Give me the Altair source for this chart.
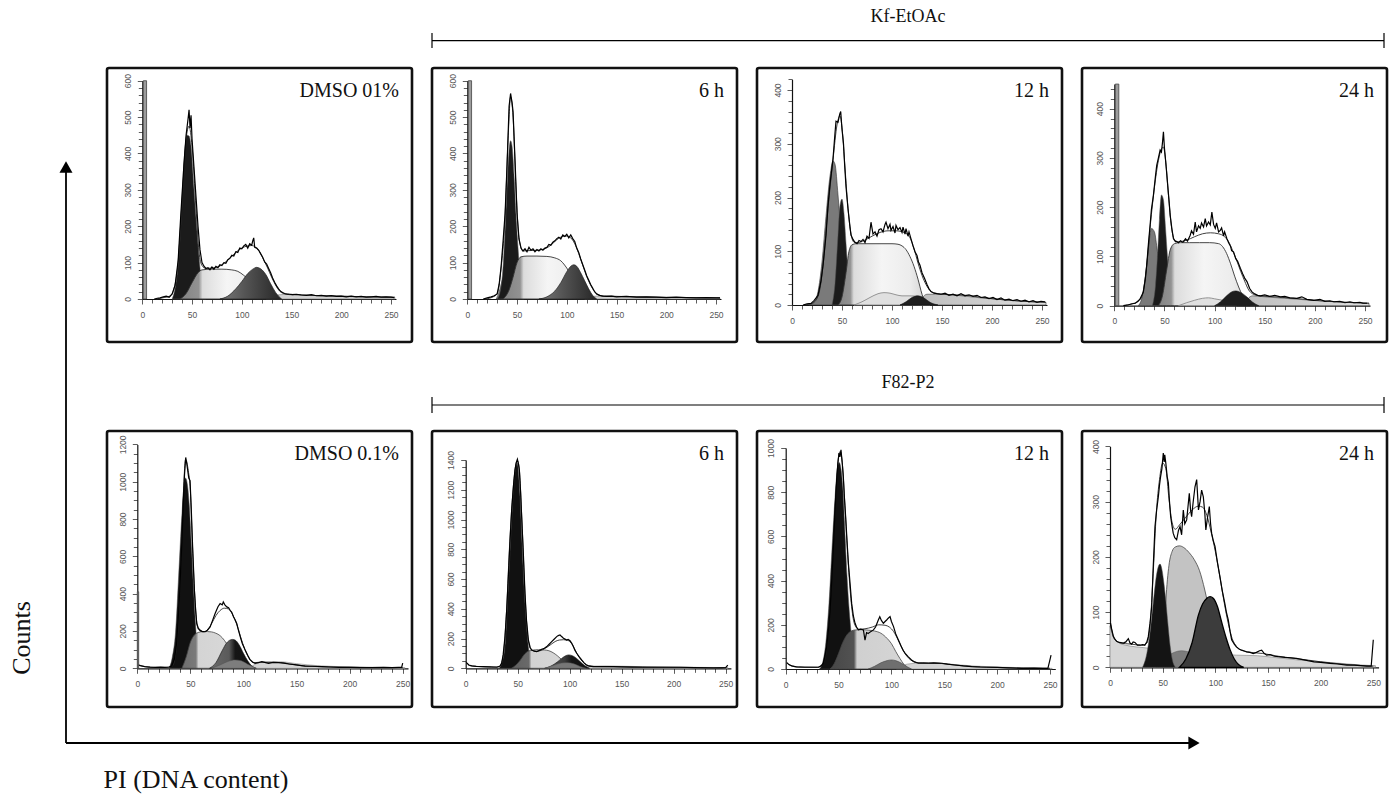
import altair as alt
import pandas as pd

W, H = 1394, 795
SERIF = "Liberation Serif"
SANS = "Liberation Sans"

# ======================= DATA =======================
# x = PI channel (0-255), y = counts

# ---- Panel 1 : DMSO 01% (top) ----
p1_raw = [(12,0),(15,2),(18,3),(21,6),(24,8),(27,5),(30,14),(33,38),(36,105),(39,245),(42,375),(44,450),(46,495),(47,520),(48,470),(49,505),(50,440),(52,360),(54,280),(56,200),(58,135),(60,100),(62,90),(64,84),(66,86),(68,80),(70,88),(72,82),(74,90),(76,86),(78,94),(80,92),(82,100),(84,98),(86,108),(88,112),(90,120),(92,118),(94,130),(96,128),(98,140),(100,138),(102,146),(104,150),(106,140),(108,152),(110,148),(111,160),(112,168),(113,142),(115,140),(117,134),(119,124),(121,115),(123,102),(125,96),(127,84),(129,72),(131,58),(133,46),(135,36),(137,28),(139,21),(141,18),(143,15),(145,14),(148,13),(151,12),(155,13),(160,11),(165,10),(170,12),(175,9),(180,10),(185,8),(190,9),(195,7),(200,8),(205,6),(210,8),(215,6),(220,7),(225,5),(230,6),(235,7),(240,5),(245,6),(250,5),(253,4)]
p1_fit = [(14,0),(22,4),(28,8),(32,30),(36,100),(40,270),(44,440),(47,475),(50,420),(54,250),(57,130),(60,92),(64,84),(70,85),(76,88),(82,98),(88,112),(94,128),(100,140),(106,146),(110,147),(114,142),(118,130),(122,108),(126,85),(130,60),(134,38),(138,22),(142,15),(148,12),(160,11),(180,9),(200,8),(225,6),(254,5)]
p1_g1 = [(30,0),(33,30),(36,95),(39,230),(42,380),(45,450),(47,448),(49,420),(52,300),(55,185),(58,85),(61,15),(64,0)]
p1_s = [(38,0),(44,15),(50,45),(56,72),(60,80),(70,82),(80,82),(90,80),(96,76),(102,65),(108,50),(114,33),(120,18),(126,7),(132,0)]
p1_g2 = [(78,0),(86,8),(94,28),(100,48),(106,70),(111,82),(115,87),(119,83),(124,68),(129,42),(134,18),(140,0)]
p1_tail = [(125,0),(135,11),(150,13),(170,10),(200,7),(230,5),(254,4)]
p1_spike = [(1,4.3,600)]

# ---- Panel 2 : Kf-EtOAc 6 h ----
p2_raw = [(16,0),(20,3),(24,6),(27,9),(30,14),(32,40),(34,90),(36,160),(38,235),(40,370),(42,530),(43.5,565),(45,540),(46,515),(48,380),(50,235),(52,165),(54,140),(56,132),(58,138),(60,130),(62,142),(64,134),(66,138),(68,130),(70,136),(72,132),(74,138),(76,134),(78,140),(80,142),(82,150),(84,148),(86,156),(88,160),(90,166),(92,170),(94,165),(96,176),(98,172),(100,178),(102,168),(104,176),(106,166),(108,158),(110,140),(112,128),(114,110),(116,95),(118,80),(120,64),(122,52),(124,40),(126,30),(128,20),(130,14),(133,10),(136,8),(140,7),(145,8),(150,6),(160,7),(170,5),(180,6),(190,5),(200,4),(210,5),(220,4),(230,3),(240,4),(250,3),(254,3)]
p2_fit = [(18,0),(26,6),(30,14),(34,85),(38,230),(41,440),(43.5,555),(46,500),(49,300),(52,165),(56,132),(62,133),(70,134),(78,138),(84,148),(90,163),(96,172),(100,173),(104,168),(108,152),(112,125),(116,93),(120,62),(124,38),(128,20),(132,11),(138,8),(150,7),(180,5),(220,4),(254,3)]
p2_sub = [(29,0),(32,20),(35,50),(38,72),(39.5,76),(41,70),(43,50),(45,25),(47,8),(49,0)]
p2_g1 = [(30,0),(33,20),(36,90),(38,190),(40,310),(42,410),(43.5,435),(45,420),(47,340),(49,230),(51,140),(53,65),(55,20),(57,0)]
p2_s = [(36,0),(42,25),(46,60),(50,100),(54,116),(60,118),(70,118),(80,117),(88,113),(94,105),(100,85),(106,58),(112,30),(118,10),(126,0)]
p2_g2 = [(72,0),(80,6),(88,22),(94,45),(100,75),(104,90),(107,94),(110,90),(114,72),(118,50),(122,28),(126,10),(130,0)]
p2_tail = [(118,0),(130,8),(140,8),(160,7),(190,5),(220,4),(254,3)]
p2_spike = [(1,4.3,600)]

# ---- Panel 3 : Kf-EtOAc 12 h ----
p3_raw = [(11,0),(15,2),(19,3),(22,8),(26,18),(29,45),(31,74),(34,130),(36,185),(38,225),(41,272),(43,320),(44,342),(46,340),(47.7,355),(48.7,360),(50,327),(51.5,300),(52.7,259),(54,220),(56,179),(58,145),(59,130),(61,122),(62.7,117),(65,114),(67,120),(69,118),(71,122),(73,116),(75,128),(77,124),(79,154),(81,132),(83,136),(85,128),(87,140),(89,142),(91,136),(93,150),(94,154),(96,142),(98,150),(99,139),(101,146),(103,134),(104,148),(106,140),(108,144),(110,135),(111,145),(113,132),(114,142),(116,128),(117,136),(119,123),(121,110),(123,99),(125,92),(126.5,80),(128,74),(130,60),(132.7,49),(135,38),(137,30),(139,25),(142,22),(145,21),(149,20),(153,22),(157,18),(161,20),(165,17),(169,21),(173,17),(177,19),(181,16),(185,18),(189,14),(193,15),(197,12),(201,14),(205,10),(209,13),(213,9),(217,11),(221,8),(225,10),(229,7),(233,9),(237,6),(241,8),(245,5),(249,7),(253,6)]
p3_fit = [(12,0),(20,3),(26,16),(31,72),(36,180),(41,270),(45,335),(48,352),(50,330),(53,255),(56,180),(59,132),(62,117),(66,116),(72,120),(80,128),(88,135),(96,138),(104,138),(112,135),(118,125),(122,105),(126,78),(130,55),(134,38),(138,27),(143,22),(150,20),(160,19),(175,18),(190,14),(210,10),(230,7),(254,5)]
p3_sub = [(17,0),(22,5),(26,25),(30,80),(34,165),(38,240),(41,268),(43,262),(46,205),(49,135),(52,80),(55,35),(58,10),(61,0)]
p3_g1 = [(40,0),(43,40),(46,130),(48,185),(50,197),(52,170),(54,115),(56,60),(58,20),(61,0)]
p3_s = [(46,0),(50,15),(54,60),(57,100),(60,112),(64,114),(70,114),(80,114),(90,114),(100,114),(106,113),(110,110),(114,103),(118,90),(122,72),(126,48),(130,20),(134,0)]
p3_bump = [(62,0),(70,6),(78,14),(86,21),(92,23),(98,22),(104,19),(110,17),(118,17),(126,16),(132,8),(138,0)]
p3_g2 = [(108,0),(114,6),(120,14),(126,17),(132,13),(138,5),(146,0)]
p3_tail = [(126,0),(135,20),(150,20),(170,17),(190,13),(210,10),(230,7),(254,5)]

# ---- Panel 4 : Kf-EtOAc 24 h ----
p4_raw = [(9,0),(14,2),(18,4),(21,5),(24,10),(26,15),(29,28),(31,55),(32.3,82),(34,125),(35.7,164),(37,195),(39,224),(41,262),(42.3,285),(44,300),(45.7,316),(47,312),(48,330),(49,353),(50,320),(50.7,305),(52,275),(53,251),(54.5,215),(55.7,184),(57.5,155),(59,136),(61,130),(62.3,130),(64,128),(66,132),(68,129),(69,130),(71,136),(73,131),(75.7,143),(77,152),(79,145),(80.7,170),(82,150),(84,162),(85.7,157),(87,168),(89,160),(90.7,177),(92,162),(94,170),(95.7,164),(97.3,190),(99,165),(100.7,157),(102,168),(104,150),(105.7,153),(107,158),(109,142),(110,150),(112.3,136),(114,128),(116,120),(117,112),(119,109),(121,96),(123,90),(125.7,76),(128,65),(130,56),(132.3,49),(135,35),(137.3,28),(140,24),(143,21),(145.7,20),(150,22),(155,19),(160,21),(165.7,18),(170,19),(175,16),(182,15),(187,18),(192,13),(199,11),(205,13),(210,9),(215,10),(219,8),(225,9),(230,6),(235,8),(239,6),(245,7),(248,5),(252,5)]
p4_fit = [(10,0),(18,4),(24,9),(28,22),(32,75),(36,165),(40,240),(44,295),(47,318),(49,322),(51,298),(54,225),(57,160),(60,134),(64,130),(72,133),(80,140),(88,146),(96,148),(104,146),(110,140),(114,130),(118,112),(122,92),(126,70),(130,50),(134,32),(138,24),(145,20),(160,18),(180,15),(200,11),(220,8),(240,6),(254,5)]
p4_sub = [(24,0),(28,20),(31,60),(34,115),(37,157),(40,150),(43,110),(46,60),(49,20),(52,0)]
p4_g1 = [(38,0),(41,40),(43,100),(45,175),(47,225),(49,215),(51,160),(53,100),(55,50),(58,12),(61,0)]
p4_s = [(44,0),(48,20),(52,70),(56,115),(60,126),(66,128),(75,128),(85,128),(95,128),(104,126),(108,120),(112,106),(116,85),(120,60),(124,38),(128,20),(132,6),(135,0)]
p4_bump = [(64,0),(72,6),(80,11),(88,15),(94,16),(100,14),(108,11),(116,8),(122,0)]
p4_g2 = [(100,0),(106,8),(112,20),(117,28),(121,30),(126,27),(132,18),(138,7),(144,0)]
p4_tail = [(128,0),(138,20),(150,18),(170,15),(190,12),(210,9),(230,7),(254,5)]
p4_spike = [(1,4.5,450)]

# ---- Panel 5 : DMSO 0.1% (bottom) ----
p5_raw = [(0.5,18),(3,14),(7,9),(12,6),(17,5),(22,6),(26,5),(30,7),(32.4,12),(35,50),(37,133),(38.5,260),(40,418),(42,680),(43.4,899),(44.5,1040),(45.6,1130),(46.5,1100),(47.5,1059),(48.5,1020),(49.7,1005),(51,830),(52,667),(53,530),(53.8,418),(55,310),(56,240),(57.5,215),(59,205),(61,198),(64,196),(66,204),(68.6,222),(71,258),(73.3,294),(76,330),(78,347),(80,340),(81,356),(82.5,340),(84.3,329),(86,325),(87.4,311),(89,300),(90.6,276),(92,262),(93.7,240),(95,210),(97,169),(99,132),(101.6,98),(104,70),(106,48),(108.5,34),(111,27),(114,30),(117.3,36),(120,32),(123.6,27),(128,32),(133,30),(138,28),(142.5,23),(148,20),(153,16),(158,12),(165,11),(174,9),(182,7),(190,5),(200,5),(210,4),(221,4),(232,5),(240,4),(246,5),(249,5),(250,28)]
p5_fit = [(0.5,18),(5,11),(15,5),(28,5),(33,12),(37,120),(40,410),(43,880),(45.5,1120),(48,1060),(50,950),(52,650),(54,400),(56,245),(58,205),(62,195),(66,205),(70,240),(74,282),(78,310),(82,322),(86,318),(90,285),(94,230),(98,155),(102,92),(106,48),(110,30),(116,33),(125,32),(135,31),(145,22),(155,14),(170,9),(190,6),(220,4),(250,4)]
p5_g1 = [(30,0),(33,60),(36,190),(39,500),(42,820),(44,980),(45.5,1020),(47,990),(49,870),(51,650),(53,420),(55,220),(57,70),(60,0)]
p5_s = [(42,0),(46,60),(50,140),(54,180),(58,193),(62,197),(66,197),(70,195),(74,188),(78,175),(82,150),(86,115),(90,78),(94,42),(98,15),(102,0)]
p5_g2 = [(68,0),(74,30),(80,95),(84,135),(88,153),(90,155),(93,148),(96,125),(100,80),(104,40),(108,12),(112,0)]
p5_bump = [(70,0),(78,18),(86,38),(92,45),(98,40),(104,22),(112,0)]
p5_tail = [(105,0),(115,30),(125,35),(135,35),(150,25),(170,14),(200,8),(230,5),(252,4)]
p5_spike = [(0,1.3,410)]

# ---- Panel 6 : F82-P2 6 h ----
p6_raw = [(0.5,40),(3,22),(5.8,16),(10,13),(17,11),(24,9),(30,7),(33,15),(34.6,34),(36,90),(37.8,213),(39.5,400),(41,616),(42.5,840),(44.2,1064),(46,1230),(47.4,1333),(48.5,1380),(49.7,1405),(50.8,1370),(51.6,1333),(52.8,1180),(53.8,1019),(55.5,760),(57,504),(58.5,320),(60.3,190),(62,140),(63.5,123),(66,115),(68.3,112),(70,118),(72,124),(73,128),(75,132),(78,146),(80,160),(82.7,179),(85,195),(87.5,213),(89,220),(90.7,224),(92,215),(94,202),(95.5,196),(97,190),(98.5,194),(100.3,186),(102,168),(103.5,146),(105,122),(106.7,101),(109,78),(111.5,56),(114,35),(116,22),(119,14),(122.7,11),(130,12),(136,11),(142,11),(150,9),(160,8),(174,7),(190,7),(206,7),(220,5),(238,2),(246,3),(250,4),(252,22)]
p6_fit = [(0.5,40),(4,18),(12,12),(25,8),(32,10),(36,80),(39,350),(42,800),(45,1150),(48,1360),(49.7,1395),(51.5,1340),(54,1000),(57,500),(60,195),(63,125),(68,113),(74,125),(80,150),(86,180),(90,190),(94,192),(98,188),(102,165),(106,112),(110,65),(114,35),(118,18),(124,12),(140,11),(170,8),(210,6),(250,4)]
p6_g1 = [(32,0),(35,40),(38,170),(41,550),(44,980),(47,1290),(49.5,1380),(52,1180),(54,860),(56,560),(58,330),(60,160),(62,60),(65,0)]
p6_s = [(44,0),(48,20),(52,50),(56,90),(60,115),(64,122),(70,125),(76,123),(80,118),(84,105),(88,85),(92,60),(96,35),(100,14),(104,0)]
p6_g2 = [(76,0),(82,15),(88,42),(92,65),(96,84),(99,90),(102,86),(106,70),(110,45),(114,20),(119,0)]
p6_bump = [(76,0),(84,18),(92,35),(98,38),(104,30),(110,12),(116,0)]
p6_tail = [(110,0),(120,15),(135,16),(150,14),(170,11),(200,8),(230,6),(252,5)]

# ---- Panel 7 : F82-P2 12 h ----
p7_raw = [(1,29),(3,20),(5.7,14),(10,10),(18,8),(25,8),(31,8),(33.5,14),(35.6,26),(37,55),(38.8,101),(40.5,180),(42,267),(43.5,400),(45,539),(46.5,700),(48,841),(49.3,930),(50.4,977),(51.3,960),(52.3,992),(53.5,930),(54.5,871),(55.5,780),(56.7,690),(58,580),(59.3,478),(61,380),(62.4,297),(64,240),(65.6,207),(67,190),(68.7,177),(71,180),(73.5,177),(75,131),(76.5,165),(78,161),(80,168),(83,177),(85,190),(87.6,222),(89,237),(90.5,220),(92.4,207),(94,215),(95.5,222),(97,230),(98.7,237),(100,215),(102,192),(104,160),(106.6,131),(109,105),(111,85),(113,71),(116,55),(119,41),(122,32),(125.5,26),(130,27),(135,26),(140,28),(147.5,26),(153,22),(160,18),(168,14),(176,11),(184,9),(192,8),(200,7),(210,5),(223,3),(235,4),(243,3),(248,3),(251,63)]
p7_fit = [(1,29),(5,15),(12,9),(30,8),(35,22),(39,105),(43,380),(46.5,700),(49.5,940),(51.5,985),(53.5,935),(56,740),(59,490),(62,300),(65,205),(69,180),(75,182),(82,190),(88,200),(94,198),(98,190),(102,170),(106,135),(110,95),(114,62),(118,42),(124,29),(135,27),(147,25),(160,18),(180,10),(200,7),(225,4),(250,3)]
p7_g1 = [(32,0),(35,30),(38,120),(41,300),(44,560),(47,800),(49,910),(50.5,935),(52,915),(54,820),(56,620),(58,420),(60,270),(62,160),(64,80),(66,30),(69,0)]
p7_s = [(42,0),(46,25),(50,70),(54,120),(58,155),(62,172),(66,177),(72,178),(78,176),(84,172),(90,162),(96,138),(100,115),(104,80),(108,48),(112,20),(117,0)]
p7_g2 = [(78,0),(84,12),(90,28),(96,38),(100,41),(104,38),(110,25),(115,10),(119,0)]
p7_tail = [(105,0),(115,22),(130,28),(145,27),(160,20),(180,13),(200,9),(230,5),(252,3)]

# ---- Panel 8 : F82-P2 24 h ----
p8_raw = [(0.5,80),(1.5,70),(3.2,56),(5,50),(6.3,47),(9,45),(12.7,44),(15,46),(17.4,52),(19,44),(20.6,42),(22,46),(23.7,45),(26,40),(28.5,40),(31,41),(33,40),(35,46),(36.4,56),(38,80),(39.6,110),(41,180),(42.7,255),(44.3,285),(45.9,309),(47,330),(48,345),(49.3,360),(50.6,388),(51.5,372),(52,385),(53,370),(54.3,345),(55.4,334),(56.5,300),(57.6,273),(59,255),(60,243),(61.5,235),(63.3,231),(65,248),(66.5,255),(68,240),(69.6,285),(71,260),(72.8,267),(74,290),(75.3,315),(76.5,285),(77.5,273),(79,300),(80.7,327),(82.3,340),(84,285),(85.5,300),(87,321),(88.6,309),(90,280),(91,249),(92.5,270),(94.3,291),(95.5,260),(96.5,243),(98,230),(99.7,219),(102,190),(104.4,164),(106.5,140),(109,116),(110.5,100),(112.3,86),(114,65),(115.5,50),(118,42),(120,37),(122.5,33),(125,31),(127,30),(129.7,28),(133,27),(136,25),(139,27),(142,30),(144,31),(146,26),(148.7,22),(152,23),(156,20),(161.4,19),(166,18),(172,17),(177,16),(183,14),(188,12),(193.7,10),(200,9),(208.9,7),(216,6),(224.7,4),(232,4),(238,3),(243.7,2),(248,2),(250,50)]
p8_fit = [(0.5,78),(4,52),(10,44),(20,42),(30,40),(35,44),(38,75),(41,170),(44,280),(47,340),(50,370),(53,360),(56,305),(59,262),(62,250),(66,258),(72,272),(78,285),(84,292),(88,290),(92,275),(96,245),(100,210),(104,168),(108,122),(112,82),(116,52),(120,38),(126,30),(134,27),(145,25),(160,20),(180,15),(200,10),(225,5),(250,2)]
p8_debris = [(0,75),(3,55),(8,45),(15,40),(25,37),(35,35),(45,33),(60,30),(80,27),(100,24),(120,22),(140,21),(160,17),(180,13),(200,10),(220,7),(240,4),(252,3)]
p8_agg = [(44,0),(56,22),(68,30),(80,25),(95,17),(110,10),(125,0)]
p8_g1 = [(31,0),(35,25),(38,62),(41,115),(44,165),(46,183),(47.5,187),(49,180),(51,155),(53,120),(55,78),(57,40),(59,15),(62,0)]
p8_s = [(50,0),(53,120),(56,185),(59,210),(62,218),(66,220),(70,217),(75,208),(80,195),(85,175),(90,140),(95,95),(100,45),(104,15),(108,0)]
p8_g2 = [(66,0),(72,15),(78,45),(84,95),(88,115),(92,125),(95,128),(98,125),(102,110),(106,82),(110,55),(114,32),(118,15),(122,5),(127,0)]

# panel captions
labels = ["DMSO 01%", "6 h", "12 h", "24 h", "DMSO 0.1%", "6 h", "12 h", "24 h"]
headers = ["Kf-EtOAc", "F82-P2"]

# ======================= LAYOUT (pixels) =======================
BOX_X = [107, 432, 757, 1082]
BOX_W = 305
ROW_Y = [(68, 342), (431, 707)]

geoms = [
    dict(x0=142.3, x250=391.0, y0=299.0, ppu=0.3638, ytop=600, major=100, minor=20),
    dict(x0=467.3, x250=716.0, y0=299.0, ppu=0.3638, ytop=600, major=100, minor=20),
    dict(x0=792.0, x250=1042.0, y0=305.0, ppu=0.5375, ytop=420, major=100, minor=20),
    dict(x0=1114.3, x250=1365.0, y0=305.7, ppu=0.4925, ytop=450, major=100, minor=20),
    dict(x0=137.3, x250=402.7, y0=668.3, ppu=0.1866, ytop=1200, major=200, minor=50),
    dict(x0=465.7, x250=725.7, y0=668.3, ppu=0.1488, ytop=1400, major=200, minor=50),
    dict(x0=785.7, x250=1050.0, y0=669.0, ppu=0.2209, ytop=1000, major=200, minor=50),
    dict(x0=1110.0, x250=1373.3, y0=667.3, ppu=0.552, ytop=400, major=100, minor=20),
]


def grad(stops):
    return alt.LinearGradient(
        gradient="linear",
        stops=[alt.GradientStop(color=c, offset=o) for o, c in stops],
        x1=0, x2=1, y1=0, y2=0,
    )


def A(fill, stroke="#333", sw=0.7):
    return ("area", dict(fill=fill, stroke=stroke, strokeWidth=sw))


RAW = ("line", dict(color="#000000", strokeWidth=1.2, interpolate="linear"))
FIT = ("line", dict(color="#2a2a2a", strokeWidth=0.9, interpolate="monotone"))
SPIKE = ("rect", dict(fill="#9c9c9c", stroke="#444", strokeWidth=0.8))

S_TOP = lambda a: grad([(0, "#838383"), (a, "#929292"), (a + 0.04, "#dcdcdc"), (0.5, "#f5f5f5"), (0.82, "#ececec"), (1, "#d2d2d2")])
G2_TOP = grad([(0, "#7a7a7a"), (0.4, "#555555"), (1, "#262626")])
TAIL = ("#d2d2d2", "#777", 0.6)

panels = [
    [(p1_tail, A(*TAIL)), (p1_g1, A("#1b1b1b", "#555", 0.5)), (p1_s, A(S_TOP(0.2), "#333", 0.9)),
     (p1_g2, A(G2_TOP, "#222", 0.7)), (p1_fit, FIT), (p1_raw, RAW), (p1_spike, SPIKE)],
    [(p2_tail, A(*TAIL)), (p2_sub, A("#7f7f7f", "#444", 0.6)), (p2_g1, A("#1b1b1b", "#555", 0.5)),
     (p2_s, A(S_TOP(0.19), "#333", 0.9)), (p2_g2, A(G2_TOP, "#222", 0.7)), (p2_fit, FIT), (p2_raw, RAW), (p2_spike, SPIKE)],
    [(p3_tail, A(grad([(0, "#bdbdbd"), (1, "#dedede")]), "#555", 0.7)), (p3_sub, A("#7a7a7a", "#333", 0.6)),
     (p3_g1, A("#1b1b1b", "#555", 0.5)), (p3_s, A(S_TOP(0.14), "#333", 0.9)),
     (p3_bump, A("#e0e0e0", "#8a8a8a", 0.9)), (p3_g2, A("#1e1e1e", "#111", 0.6)), (p3_fit, FIT), (p3_raw, RAW)],
    [(p4_tail, A(grad([(0, "#bdbdbd"), (1, "#dedede")]), "#555", 0.7)), (p4_sub, A("#7a7a7a", "#333", 0.6)),
     (p4_g1, A("#1b1b1b", "#555", 0.5)), (p4_s, A(S_TOP(0.14), "#333", 0.9)),
     (p4_bump, A("#e0e0e0", "#8a8a8a", 0.9)), (p4_g2, A("#1e1e1e", "#111", 0.6)), (p4_fit, FIT), (p4_raw, RAW), (p4_spike, SPIKE)],
    [(p5_tail, A("#d5d5d5", "#888", 0.6)), (p5_g1, A("#111111", "#444", 0.5)),
     (p5_s, A(grad([(0, "#6f6f6f"), (0.22, "#7a7a7a"), (0.26, "#d4d4d4"), (1, "#dadada")]), "#444", 0.8)),
     (p5_g2, A(grad([(0, "#6a6a6a"), (0.42, "#5a5a5a"), (0.55, "#161616"), (1, "#111111")]), "#111", 0.6)),
     (p5_bump, A("#7d7d7d", "#555", 0.5)), (p5_fit, FIT), (p5_raw, RAW), (p5_spike, SPIKE)],
    [(p6_tail, A("#d5d5d5", "#888", 0.6)), (p6_g1, A("#111111", "#444", 0.5)),
     (p6_s, A(grad([(0, "#606060"), (0.28, "#6a6a6a"), (0.32, "#d2d2d2"), (1, "#d8d8d8")]), "#444", 0.8)),
     (p6_g2, A(grad([(0, "#5a5a5a"), (0.45, "#3a3a3a"), (0.6, "#161616"), (1, "#111111")]), "#111", 0.6)),
     (p6_bump, A("#777777", "#555", 0.5)), (p6_fit, FIT), (p6_raw, RAW)],
    [(p7_tail, A("#d5d5d5", "#888", 0.6)), (p7_g1, A("#111111", "#444", 0.5)),
     (p7_s, A(grad([(0, "#474747"), (0.3, "#525252"), (0.34, "#d0d0d0"), (1, "#d6d6d6")]), "#444", 0.8)),
     (p7_g2, A("#6f6f6f", "#444", 0.6)), (p7_fit, FIT), (p7_raw, RAW)],
    [(p8_debris, A("#d6d6d6", "#777", 0.6)), (p8_s, A("#c3c3c3", "#444", 0.8)),
     (p8_agg, A("#7c7c7c", "#555", 0.5)), (p8_g1, A("#141414", "#444", 0.5)),
     (p8_g2, A("#3c3c3c", "#000", 1.3)), (p8_fit, FIT), (p8_raw, RAW)],
]


def make_panel(g, items):
    x255 = g["x0"] + (g["x250"] - g["x0"]) * 255.0 / 250.0
    ytop_px = g["y0"] - g["ytop"] * g["ppu"]
    xs = alt.Scale(domain=[0, 255], range=[g["x0"], x255], nice=False, zero=False)
    ys = alt.Scale(domain=[0, g["ytop"]], range=[g["y0"], ytop_px], nice=False, zero=False)
    major, minor = g["major"], g["minor"]
    common = dict(labelFont=SANS, labelFontSize=8.5, labelColor="#555", tickColor="#333", tickWidth=0.8,
                  domainColor="#111", domainWidth=1.2, grid=False, labelOverlap=False, labelFlush=False,
                  title=None, format="d")
    xaxis = alt.Axis(orient="bottom", offset=g["y0"] - H, values=list(range(0, 251, 10)),
                     labelExpr="datum.value % 50 === 0 ? datum.label : ''",
                     tickSize={"condition": {"test": "datum.value % 50 === 0", "value": 5}, "value": 4},
                     labelPadding=6, **common)
    yaxis = alt.Axis(orient="left", offset=-g["x0"], values=list(range(0, g["ytop"] + 1, minor)),
                     labelExpr=f"datum.value % {major} === 0 ? datum.label : ''",
                     tickSize={"condition": {"test": f"datum.value % {major} === 0", "value": 5}, "value": 4},
                     labelAngle=270, labelAlign="center", labelBaseline="bottom", labelPadding=5, **common)
    layers = []
    for pts, (kind, st) in items:
        if kind == "rect":
            df = pd.DataFrame({"x1": [p[0] for p in pts], "x2": [p[1] for p in pts],
                               "h": [p[2] for p in pts], "b": [0] * len(pts)})
            layers.append(alt.Chart(df).mark_rect(**st).encode(
                x=alt.X("x1:Q", scale=xs, axis=xaxis), x2="x2:Q",
                y=alt.Y("h:Q", scale=ys, axis=yaxis), y2="b:Q"))
            continue
        df = pd.DataFrame({"x": [p[0] for p in pts], "y": [p[1] for p in pts], "b": [0] * len(pts)})
        if kind == "area":
            ch = alt.Chart(df).mark_area(interpolate="monotone", **st).encode(
                x=alt.X("x:Q", scale=xs, axis=xaxis),
                y=alt.Y("y:Q", scale=ys, axis=yaxis), y2="b:Q")
        else:
            ch = alt.Chart(df).mark_line(**st).encode(
                x=alt.X("x:Q", scale=xs, axis=xaxis),
                y=alt.Y("y:Q", scale=ys, axis=yaxis))
        layers.append(ch)
    return alt.layer(*layers)


# ---------------- decorations in page pixels ----------------
DX = alt.Scale(domain=[0, W], range=[0, W], nice=False, zero=False)
DY = alt.Scale(domain=[0, H], range=[0, H], nice=False, zero=False)

boxes = pd.DataFrame([dict(x1=bx, x2=bx + BOX_W, y1=ry[0], y2=ry[1]) for ry in ROW_Y for bx in BOX_X])
rules = pd.DataFrame([
    dict(x=432, x2=1384, y=40.7, y2=40.7), dict(x=432, x2=432, y=33, y2=48), dict(x=1384, x2=1384, y=33, y2=48),
    dict(x=432, x2=1384, y=405, y2=405), dict(x=432, x2=432, y=397, y2=413), dict(x=1384, x2=1384, y=397, y2=413),
])
arrows = pd.DataFrame([dict(x=66, x2=66, y=743, y2=170), dict(x=66, x2=1190, y=743, y2=743)])
head_up = pd.DataFrame([dict(x=66, y=167)])
head_right = pd.DataFrame([dict(x=1194, y=743)])
cap_df = pd.DataFrame([dict(x=BOX_X[i % 4] + BOX_W - 13, y=ROW_Y[i // 4][0] + 29, t=labels[i]) for i in range(8)])
head_df = pd.DataFrame([dict(x=908, y=17, t=headers[0]), dict(x=908, y=383, t=headers[1])])
counts_df = pd.DataFrame([dict(x=22, y=638, t="Counts")])
pi_df = pd.DataFrame([dict(x=196, y=780, t="PI (DNA content)")])


def dx(f):
    return alt.X(f, scale=DX, axis=None)


def dy(f):
    return alt.Y(f, scale=DY, axis=None)


deco = alt.layer(
    alt.Chart(boxes).mark_rect(fill="white", fillOpacity=0, stroke="#111", strokeWidth=2.6, cornerRadius=2).encode(
        x=dx("x1:Q"), x2="x2:Q", y=dy("y1:Q"), y2="y2:Q"),
    alt.Chart(rules).mark_rule(color="#000", strokeWidth=1.2).encode(x=dx("x:Q"), x2="x2:Q", y=dy("y:Q"), y2="y2:Q"),
    alt.Chart(arrows).mark_rule(color="#000", strokeWidth=1.8).encode(x=dx("x:Q"), x2="x2:Q", y=dy("y:Q"), y2="y2:Q"),
    alt.Chart(head_up).mark_point(shape="triangle-up", filled=True, size=170, color="#000", opacity=1).encode(
        x=dx("x:Q"), y=dy("y:Q")),
    alt.Chart(head_right).mark_point(shape="triangle-right", filled=True, size=170, color="#000", opacity=1).encode(
        x=dx("x:Q"), y=dy("y:Q")),
    alt.Chart(cap_df).mark_text(align="right", baseline="alphabetic", font=SERIF, fontSize=20, color="#111").encode(
        x=dx("x:Q"), y=dy("y:Q"), text="t:N"),
    alt.Chart(head_df).mark_text(align="center", baseline="middle", font=SERIF, fontSize=18, color="#111").encode(
        x=dx("x:Q"), y=dy("y:Q"), text="t:N"),
    alt.Chart(counts_df).mark_text(align="center", baseline="middle", font=SERIF, fontSize=26, angle=270,
                                   color="#111").encode(x=dx("x:Q"), y=dy("y:Q"), text="t:N"),
    alt.Chart(pi_df).mark_text(align="center", baseline="middle", font=SERIF, fontSize=26, color="#111").encode(
        x=dx("x:Q"), y=dy("y:Q"), text="t:N"),
)

panel_charts = [make_panel(geoms[i], panels[i]) for i in range(8)]

chart = alt.layer(*panel_charts, deco).resolve_scale(
    x="independent", y="independent"
).properties(
    width=W, height=H, padding=0, autosize=alt.AutoSizeParams(type="none"), background="white"
).configure_view(stroke=None)

chart.save("out.html", embed_options={"renderer": "svg", "actions": False})
